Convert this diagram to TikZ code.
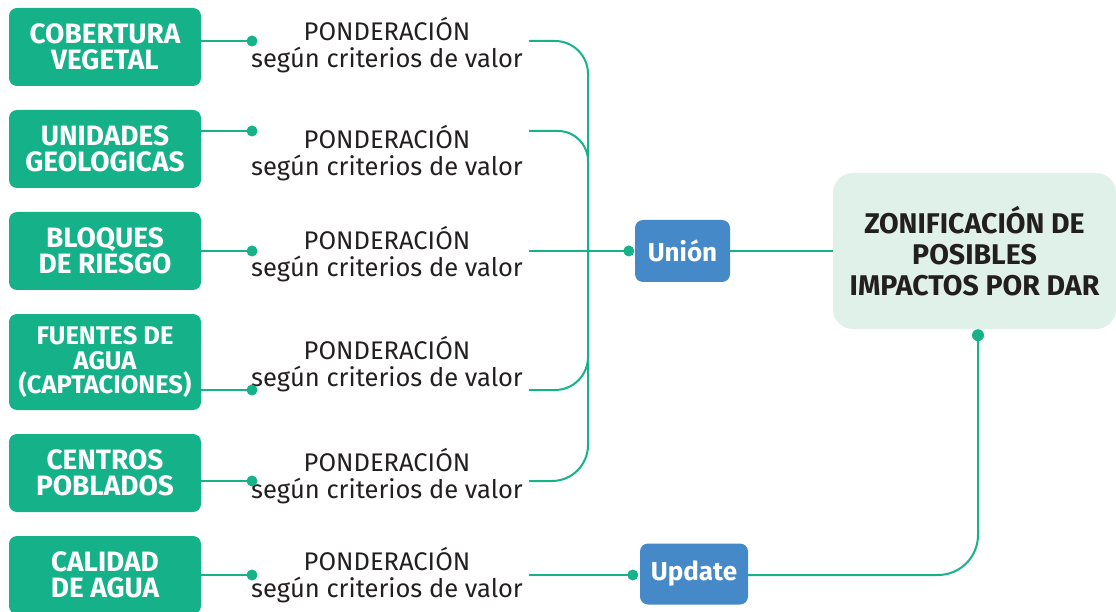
\documentclass[tikz,border=0pt]{standalone}
\usepackage{fontspec}
\setmainfont{Fira Sans}
\definecolor{boxgreen}{RGB}{21,178,138}
\definecolor{linkgreen}{RGB}{22,179,138}
\definecolor{opblue}{RGB}{69,137,201}
\definecolor{mint}{RGB}{224,241,233}
\definecolor{inkdark}{RGB}{35,31,32}

\begin{document}
\begin{tikzpicture}[x=1pt,y=-1pt,
    factor/.style={fill=boxgreen, rounded corners=8pt, text=white, align=center,
      font=\fontsize{28}{26}\selectfont\bfseries, minimum width=192pt, inner sep=0pt},
    weight/.style={text=inkdark, align=center, font=\fontsize{25.5}{27}\selectfont, inner sep=0pt},
    opbox/.style={fill=opblue, rounded corners=8pt, text=white, inner sep=0pt,
      font=\fontsize{26}{26}\selectfont\bfseries, minimum height=62pt},
    link/.style={draw=linkgreen, line width=2pt},
    joint/.style={fill=linkgreen}]
  \useasboundingbox (0,0) rectangle (1116,612);
  \clip (0,0) rectangle (1116,612);

  % input layers
  \node[factor, minimum height=78pt] (cob) at (105,47) {COBERTURA\\VEGETAL};
  \node[factor, minimum height=78pt] (geo) at (105,149) {UNIDADES\\GEOLOGICAS};
  \node[factor, minimum height=78pt] (blq) at (105,251) {BLOQUES\\DE RIESGO};
  \node[factor, minimum height=96pt, font=\fontsize{25.5}{24.5}\selectfont\bfseries] (fue) at (105,362) {FUENTES DE\\AGUA\\(CAPTACIONES)};
  \node[factor, minimum height=78pt] (cen) at (105,473) {CENTROS\\POBLADOS};
  \node[factor, minimum height=78pt] (cal) at (105,575) {CALIDAD\\DE AGUA};

  % weighting labels
  \node[weight] (w1) at (387,45) {PONDERACIÓN\\según criterios de valor};
  \node[weight] (w2) at (387,153) {PONDERACIÓN\\según criterios de valor};
  \node[weight] (w3) at (387,254) {PONDERACIÓN\\según criterios de valor};
  \node[weight] (w4) at (387,364) {PONDERACIÓN\\según criterios de valor};
  \node[weight] (w5) at (387,476) {PONDERACIÓN\\según criterios de valor};
  \node[weight] (w6) at (387,575) {PONDERACIÓN\\según criterios de valor};

  % operations and result
  \node[opbox, minimum width=95pt] (uni) at (682.5,251) {Unión};
  \node[opbox, minimum width=108pt, minimum height=61pt] (upd) at (694,574) {Update};
  \node[fill=mint, rounded corners=20pt, minimum width=283pt, minimum height=156pt, inner sep=0pt,
    text=inkdark, align=center, font=\fontsize{28.5}{31}\selectfont\bfseries] (zon) at (974.5,251)
    {ZONIFICACIÓN DE\\POSIBLES\\IMPACTOS POR DAR};

  \coordinate (d1) at (252,41);  \coordinate (o1) at (529,41);
  \coordinate (d2) at (252,131); \coordinate (o2) at (529,131);
  \coordinate (d3) at (252,251); \coordinate (o3) at (529,251);
  \coordinate (d4) at (252,390); \coordinate (o4) at (529,390);
  \coordinate (d5) at (252,481); \coordinate (o5) at (529,481);
  \coordinate (d6) at (252,575); \coordinate (o6) at (529,575);
  \coordinate (trunk) at (588,251);
  \coordinate (du) at ([xshift=-6pt]uni.west);
  \coordinate (dp) at ([xshift=-7pt]upd.west |- o6);
  \coordinate (dz) at ([yshift=-6pt]zon.south -| 978,0);

  % box to weight
  \foreach \b/\d in {cob/d1,geo/d2,blq/d3,fue/d4,cen/d5,cal/d6}{
    \draw[link] (\b.east |- \d) -- (\d);
    \fill[joint] (\d) circle (5.5pt);
  }

  % branches into the union
  \draw[link, rounded corners=33pt] (o1) -- (o1 -| trunk) -- (trunk);
  \draw[link, rounded corners=30pt] (o2) -- (o2 -| trunk) -- (trunk);
  \draw[link, rounded corners=33pt] (o4) -- (o4 -| trunk) -- (trunk);
  \draw[link, rounded corners=36pt] (o5) -- (o5 -| trunk) -- (trunk);
  \draw[link] (o3) -- (du);
  \fill[joint] (du) circle (5.5pt);
  \draw[link] (uni.east) -- (zon.west);

  % update path
  \draw[link] (o6) -- (dp);
  \fill[joint] (dp) circle (5.5pt);
  \draw[link, rounded corners=40pt] (upd.east |- o6) -- (o6 -| dz) -- (dz);
  \fill[joint] (dz) circle (6pt);
\end{tikzpicture}
\end{document}
